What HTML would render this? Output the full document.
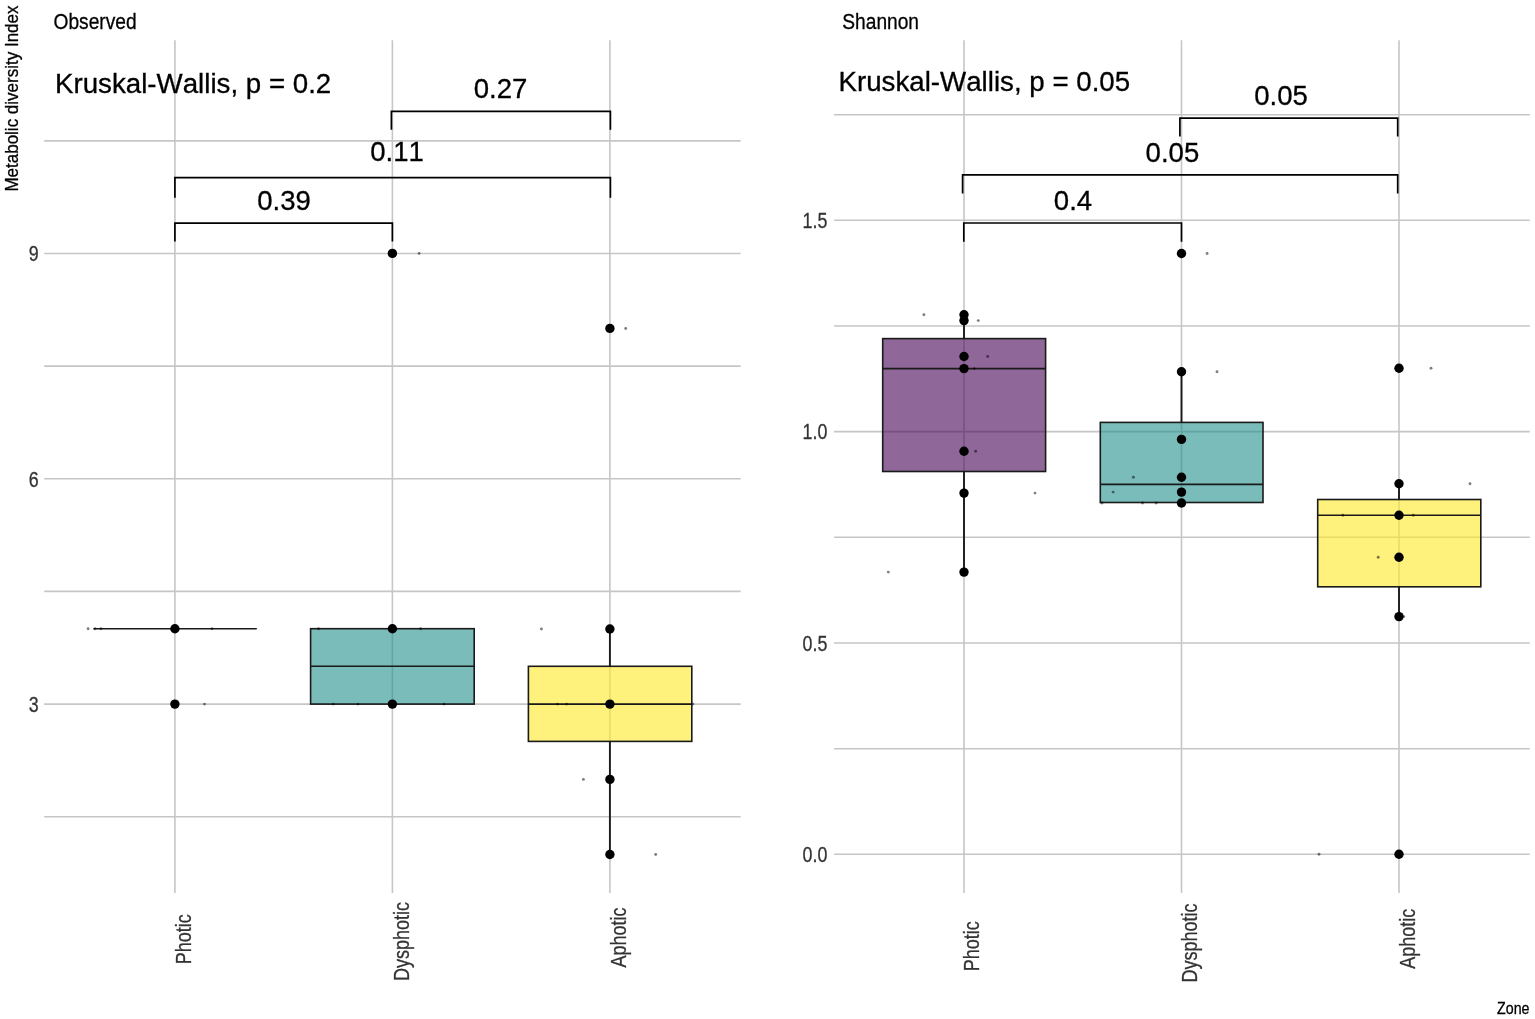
<!DOCTYPE html>
<html lang="en">
<head>
<meta charset="utf-8">
<title>Metabolic diversity index by zone</title>
<style>
html,body{margin:0;padding:0;background:#fff;}
body{width:1535px;height:1019px;overflow:hidden;}
svg{display:block;font-family:"Liberation Sans",Arial,Helvetica,sans-serif;font-kerning:none;}
text{stroke-width:0.3px;paint-order:stroke;}
</style>
</head>
<body>
<svg width="1535" height="1019" viewBox="0 0 1535 1019">
<rect width="1535" height="1019" fill="#ffffff"/>
<line x1="44.2" y1="140.85" x2="740.7" y2="140.85" stroke="#c6c6c6" stroke-width="1.6"/>
<line x1="44.2" y1="253.45" x2="740.7" y2="253.45" stroke="#c6c6c6" stroke-width="1.6"/>
<line x1="44.2" y1="366.1" x2="740.7" y2="366.1" stroke="#c6c6c6" stroke-width="1.6"/>
<line x1="44.2" y1="478.8" x2="740.7" y2="478.8" stroke="#c6c6c6" stroke-width="1.6"/>
<line x1="44.2" y1="591.4" x2="740.7" y2="591.4" stroke="#c6c6c6" stroke-width="1.6"/>
<line x1="44.2" y1="704.1" x2="740.7" y2="704.1" stroke="#c6c6c6" stroke-width="1.6"/>
<line x1="44.2" y1="816.8" x2="740.7" y2="816.8" stroke="#c6c6c6" stroke-width="1.6"/>
<line x1="174.9" y1="40.3" x2="174.9" y2="893" stroke="#c6c6c6" stroke-width="1.6"/>
<line x1="392.4" y1="40.3" x2="392.4" y2="893" stroke="#c6c6c6" stroke-width="1.6"/>
<line x1="609.9" y1="40.3" x2="609.9" y2="893" stroke="#c6c6c6" stroke-width="1.6"/>
<line x1="93.4" y1="628.7" x2="256.8" y2="628.7" stroke="#1a1a1a" stroke-width="1.6"/>
<rect x="310.6" y="628.7" width="163.59999999999997" height="75.39999999999998" fill="#21908C" fill-opacity="0.6" stroke="#1a1a1a" stroke-width="1.6"/>
<line x1="310.6" y1="666.3" x2="474.2" y2="666.3" stroke="#1a1a1a" stroke-width="1.6"/>
<line x1="609.9" y1="628.9" x2="609.9" y2="666.3" stroke="#1a1a1a" stroke-width="1.9"/>
<line x1="609.9" y1="741.4" x2="609.9" y2="854.5" stroke="#1a1a1a" stroke-width="1.9"/>
<rect x="528.4" y="666.3" width="163.39999999999998" height="75.10000000000002" fill="#FDE725" fill-opacity="0.6" stroke="#1a1a1a" stroke-width="1.6"/>
<line x1="528.4" y1="704.1" x2="691.8" y2="704.1" stroke="#1a1a1a" stroke-width="1.6"/>
<circle cx="88.1" cy="628.7" r="1.45" fill="#000" fill-opacity="0.5"/>
<circle cx="95" cy="628.7" r="1.45" fill="#000" fill-opacity="0.5"/>
<circle cx="100.9" cy="628.7" r="1.45" fill="#000" fill-opacity="0.5"/>
<circle cx="212" cy="628.7" r="1.45" fill="#000" fill-opacity="0.5"/>
<circle cx="204.5" cy="704.1" r="1.45" fill="#000" fill-opacity="0.5"/>
<circle cx="419.1" cy="253.4" r="1.45" fill="#000" fill-opacity="0.5"/>
<circle cx="318.5" cy="628.7" r="1.45" fill="#000" fill-opacity="0.5"/>
<circle cx="420.6" cy="628.7" r="1.45" fill="#000" fill-opacity="0.5"/>
<circle cx="333.2" cy="704.1" r="1.45" fill="#000" fill-opacity="0.5"/>
<circle cx="357.9" cy="704.1" r="1.45" fill="#000" fill-opacity="0.5"/>
<circle cx="443.9" cy="704.1" r="1.45" fill="#000" fill-opacity="0.5"/>
<circle cx="625.7" cy="328.5" r="1.45" fill="#000" fill-opacity="0.5"/>
<circle cx="541.4" cy="629" r="1.45" fill="#000" fill-opacity="0.5"/>
<circle cx="557.4" cy="704.1" r="1.45" fill="#000" fill-opacity="0.5"/>
<circle cx="566.6" cy="704.1" r="1.45" fill="#000" fill-opacity="0.5"/>
<circle cx="692.8" cy="704.1" r="1.45" fill="#000" fill-opacity="0.5"/>
<circle cx="583.4" cy="779.4" r="1.45" fill="#000" fill-opacity="0.5"/>
<circle cx="655.7" cy="854.5" r="1.45" fill="#000" fill-opacity="0.5"/>
<circle cx="174.9" cy="628.7" r="4.7" fill="#000"/>
<circle cx="174.9" cy="704.1" r="4.7" fill="#000"/>
<circle cx="392.4" cy="253.4" r="4.7" fill="#000"/>
<circle cx="392.4" cy="628.7" r="4.7" fill="#000"/>
<circle cx="392.4" cy="704.1" r="4.7" fill="#000"/>
<circle cx="609.9" cy="328.4" r="4.7" fill="#000"/>
<circle cx="609.9" cy="629" r="4.7" fill="#000"/>
<circle cx="609.9" cy="704.1" r="4.7" fill="#000"/>
<circle cx="609.9" cy="779.4" r="4.7" fill="#000"/>
<circle cx="609.9" cy="854.5" r="4.7" fill="#000"/>
<path d="M391.4,129.7 V111.4 H610.4 V129.7" fill="none" stroke="#000" stroke-width="1.7" stroke-linejoin="miter"/>
<path d="M174.9,197.8 V177.6 H610.4 V197.8" fill="none" stroke="#000" stroke-width="1.7" stroke-linejoin="miter"/>
<path d="M174.9,241.6 V223.1 H392.4 V241.6" fill="none" stroke="#000" stroke-width="1.7" stroke-linejoin="miter"/>
<text transform="translate(500.5,98.3) scale(1.02,1)" font-size="27" text-anchor="middle" fill="#000" stroke="#000">0.27</text>
<text transform="translate(397,160.5) scale(1.02,1)" font-size="27" text-anchor="middle" fill="#000" stroke="#000">0.11</text>
<text transform="translate(284,210) scale(1.02,1)" font-size="27" text-anchor="middle" fill="#000" stroke="#000">0.39</text>
<text transform="translate(55.0,92.8) scale(1.026,1)" font-size="27" text-anchor="start" fill="#000" stroke="#000">Kruskal-Wallis, p = 0.2</text>
<text transform="translate(53.5,28.7) scale(0.856,1)" font-size="22.4" text-anchor="start" fill="#000" stroke="#000">Observed</text>
<text transform="translate(18,5.5) rotate(-90) scale(0.966,1)" font-size="17.6" text-anchor="end" fill="#000" stroke="#000">Metabolic diversity Index</text>
<text transform="translate(38.6,261.1) scale(0.8,1)" font-size="22.3" text-anchor="end" fill="#333333" stroke="#333333">9</text>
<text transform="translate(38.6,486.5) scale(0.8,1)" font-size="22.3" text-anchor="end" fill="#333333" stroke="#333333">6</text>
<text transform="translate(38.6,711.9) scale(0.8,1)" font-size="22.3" text-anchor="end" fill="#333333" stroke="#333333">3</text>
<text transform="translate(191.0,939.2) rotate(-90) scale(0.797,1)" font-size="22.6" text-anchor="middle" fill="#333333" stroke="#333333">Photic</text>
<text transform="translate(408.7,941.6) rotate(-90) scale(0.797,1)" font-size="22.6" text-anchor="middle" fill="#333333" stroke="#333333">Dysphotic</text>
<text transform="translate(626.1,937.4) rotate(-90) scale(0.797,1)" font-size="22.6" text-anchor="middle" fill="#333333" stroke="#333333">Aphotic</text>
<line x1="834" y1="114.7" x2="1529.8" y2="114.7" stroke="#c6c6c6" stroke-width="1.6"/>
<line x1="834" y1="220.3" x2="1529.8" y2="220.3" stroke="#c6c6c6" stroke-width="1.6"/>
<line x1="834" y1="326.0" x2="1529.8" y2="326.0" stroke="#c6c6c6" stroke-width="1.6"/>
<line x1="834" y1="431.6" x2="1529.8" y2="431.6" stroke="#c6c6c6" stroke-width="1.6"/>
<line x1="834" y1="537.3" x2="1529.8" y2="537.3" stroke="#c6c6c6" stroke-width="1.6"/>
<line x1="834" y1="643" x2="1529.8" y2="643" stroke="#c6c6c6" stroke-width="1.6"/>
<line x1="834" y1="748.7" x2="1529.8" y2="748.7" stroke="#c6c6c6" stroke-width="1.6"/>
<line x1="834" y1="854.3" x2="1529.8" y2="854.3" stroke="#c6c6c6" stroke-width="1.6"/>
<line x1="964" y1="40.3" x2="964" y2="893" stroke="#c6c6c6" stroke-width="1.6"/>
<line x1="1181.5" y1="40.3" x2="1181.5" y2="893" stroke="#c6c6c6" stroke-width="1.6"/>
<line x1="1399" y1="40.3" x2="1399" y2="893" stroke="#c6c6c6" stroke-width="1.6"/>
<line x1="964" y1="314.7" x2="964" y2="338.6" stroke="#1a1a1a" stroke-width="1.9"/>
<line x1="964" y1="471.5" x2="964" y2="572.1" stroke="#1a1a1a" stroke-width="1.9"/>
<rect x="882.7" y="338.6" width="162.89999999999986" height="132.89999999999998" fill="#440154" fill-opacity="0.6" stroke="#1a1a1a" stroke-width="1.6"/>
<line x1="882.7" y1="368.6" x2="1045.6" y2="368.6" stroke="#1a1a1a" stroke-width="1.6"/>
<line x1="1181.5" y1="371.8" x2="1181.5" y2="422.4" stroke="#1a1a1a" stroke-width="1.9"/>
<line x1="1181.5" y1="502.5" x2="1181.5" y2="503" stroke="#1a1a1a" stroke-width="1.9"/>
<rect x="1100.3" y="422.4" width="162.70000000000005" height="80.10000000000002" fill="#21908C" fill-opacity="0.6" stroke="#1a1a1a" stroke-width="1.6"/>
<line x1="1100.3" y1="484.4" x2="1263.0" y2="484.4" stroke="#1a1a1a" stroke-width="1.6"/>
<line x1="1399" y1="483.7" x2="1399" y2="499.5" stroke="#1a1a1a" stroke-width="1.9"/>
<line x1="1399" y1="586.8" x2="1399" y2="616.6" stroke="#1a1a1a" stroke-width="1.9"/>
<rect x="1317.7" y="499.5" width="163.0999999999999" height="87.29999999999995" fill="#FDE725" fill-opacity="0.6" stroke="#1a1a1a" stroke-width="1.6"/>
<line x1="1317.7" y1="515.3" x2="1480.8" y2="515.3" stroke="#1a1a1a" stroke-width="1.6"/>
<circle cx="923.9" cy="314.7" r="1.45" fill="#000" fill-opacity="0.5"/>
<circle cx="978.3" cy="320.6" r="1.45" fill="#000" fill-opacity="0.5"/>
<circle cx="987.7" cy="356.5" r="1.45" fill="#000" fill-opacity="0.5"/>
<circle cx="974.3" cy="368.6" r="1.45" fill="#000" fill-opacity="0.5"/>
<circle cx="975.6" cy="451.2" r="1.45" fill="#000" fill-opacity="0.5"/>
<circle cx="1035" cy="493.1" r="1.45" fill="#000" fill-opacity="0.5"/>
<circle cx="888.3" cy="572.1" r="1.45" fill="#000" fill-opacity="0.5"/>
<circle cx="1207.1" cy="253.5" r="1.45" fill="#000" fill-opacity="0.5"/>
<circle cx="1217" cy="371.8" r="1.45" fill="#000" fill-opacity="0.5"/>
<circle cx="1133.4" cy="477.2" r="1.45" fill="#000" fill-opacity="0.5"/>
<circle cx="1113.1" cy="492.1" r="1.45" fill="#000" fill-opacity="0.5"/>
<circle cx="1102" cy="503" r="1.45" fill="#000" fill-opacity="0.5"/>
<circle cx="1142.5" cy="503" r="1.45" fill="#000" fill-opacity="0.5"/>
<circle cx="1156.2" cy="503" r="1.45" fill="#000" fill-opacity="0.5"/>
<circle cx="1431" cy="368.3" r="1.45" fill="#000" fill-opacity="0.5"/>
<circle cx="1470" cy="483.7" r="1.45" fill="#000" fill-opacity="0.5"/>
<circle cx="1342.9" cy="515.3" r="1.45" fill="#000" fill-opacity="0.5"/>
<circle cx="1413.3" cy="515.3" r="1.45" fill="#000" fill-opacity="0.5"/>
<circle cx="1378.2" cy="557.3" r="1.45" fill="#000" fill-opacity="0.5"/>
<circle cx="1403.8" cy="616.6" r="1.45" fill="#000" fill-opacity="0.5"/>
<circle cx="1319" cy="854.3" r="1.45" fill="#000" fill-opacity="0.5"/>
<circle cx="964" cy="314.7" r="4.7" fill="#000"/>
<circle cx="964" cy="320.6" r="4.7" fill="#000"/>
<circle cx="964" cy="356.5" r="4.7" fill="#000"/>
<circle cx="964" cy="368.6" r="4.7" fill="#000"/>
<circle cx="964" cy="451.2" r="4.7" fill="#000"/>
<circle cx="964" cy="493.1" r="4.7" fill="#000"/>
<circle cx="964" cy="572.1" r="4.7" fill="#000"/>
<circle cx="1181.5" cy="253.5" r="4.7" fill="#000"/>
<circle cx="1181.5" cy="371.8" r="4.7" fill="#000"/>
<circle cx="1181.5" cy="439.4" r="4.7" fill="#000"/>
<circle cx="1181.5" cy="477.2" r="4.7" fill="#000"/>
<circle cx="1181.5" cy="492.1" r="4.7" fill="#000"/>
<circle cx="1181.5" cy="503" r="4.7" fill="#000"/>
<circle cx="1399" cy="368.3" r="4.7" fill="#000"/>
<circle cx="1399" cy="483.7" r="4.7" fill="#000"/>
<circle cx="1399" cy="515.3" r="4.7" fill="#000"/>
<circle cx="1399" cy="557.3" r="4.7" fill="#000"/>
<circle cx="1399" cy="616.6" r="4.7" fill="#000"/>
<circle cx="1399" cy="854.3" r="4.7" fill="#000"/>
<path d="M1179.9,136.6 V118.1 H1397.7 V136.6" fill="none" stroke="#000" stroke-width="1.7" stroke-linejoin="miter"/>
<path d="M962.6,193.5 V174.9 H1397.7 V193.5" fill="none" stroke="#000" stroke-width="1.7" stroke-linejoin="miter"/>
<path d="M963.8,241.7 V223.0 H1181.5 V241.7" fill="none" stroke="#000" stroke-width="1.7" stroke-linejoin="miter"/>
<text transform="translate(1281,105) scale(1.02,1)" font-size="27" text-anchor="middle" fill="#000" stroke="#000">0.05</text>
<text transform="translate(1172.4,162.1) scale(1.02,1)" font-size="27" text-anchor="middle" fill="#000" stroke="#000">0.05</text>
<text transform="translate(1073,210.2) scale(1.02,1)" font-size="27" text-anchor="middle" fill="#000" stroke="#000">0.4</text>
<text transform="translate(838.5,91.0) scale(1.026,1)" font-size="27" text-anchor="start" fill="#000" stroke="#000">Kruskal-Wallis, p = 0.05</text>
<text transform="translate(842.3,28.8) scale(0.856,1)" font-size="22.4" text-anchor="start" fill="#000" stroke="#000">Shannon</text>
<text transform="translate(827.4,228.10000000000002) scale(0.8,1)" font-size="22.3" text-anchor="end" fill="#333333" stroke="#333333">1.5</text>
<text transform="translate(827.4,439.40000000000003) scale(0.8,1)" font-size="22.3" text-anchor="end" fill="#333333" stroke="#333333">1.0</text>
<text transform="translate(827.4,650.8) scale(0.8,1)" font-size="22.3" text-anchor="end" fill="#333333" stroke="#333333">0.5</text>
<text transform="translate(827.4,862.0999999999999) scale(0.8,1)" font-size="22.3" text-anchor="end" fill="#333333" stroke="#333333">0.0</text>
<text transform="translate(979.2,946.2) rotate(-90) scale(0.797,1)" font-size="22.6" text-anchor="middle" fill="#333333" stroke="#333333">Photic</text>
<text transform="translate(1196.9,942.9) rotate(-90) scale(0.797,1)" font-size="22.6" text-anchor="middle" fill="#333333" stroke="#333333">Dysphotic</text>
<text transform="translate(1414.9,938.7) rotate(-90) scale(0.797,1)" font-size="22.6" text-anchor="middle" fill="#333333" stroke="#333333">Aphotic</text>
<text transform="translate(1529.5,1013.7) scale(0.869,1)" font-size="16.4" text-anchor="end" fill="#000" stroke="#000">Zone</text>
</svg>
</body>
</html>
